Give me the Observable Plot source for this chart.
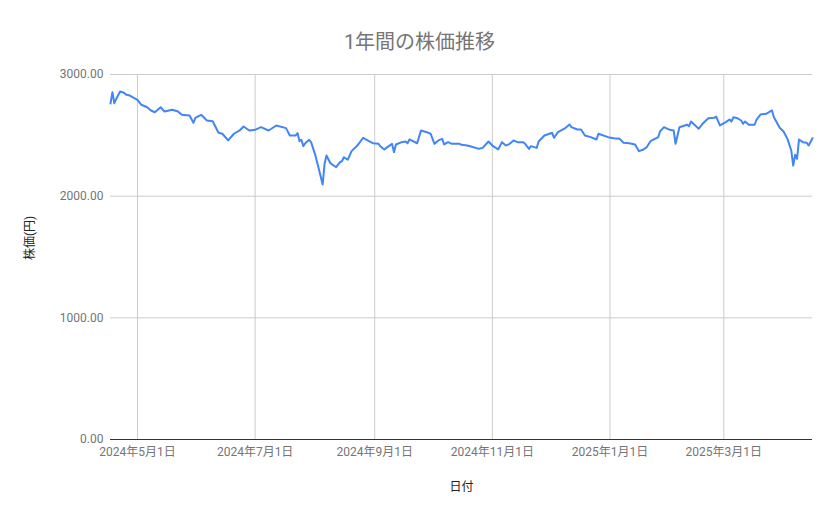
<!DOCTYPE html>
<html>
<head>
<meta charset="utf-8">
<script src="https://cdn.jsdelivr.net/npm/d3@7"></script>
<script src="https://cdn.jsdelivr.net/npm/@observablehq/plot@0.6"></script>
<style>
  body { margin: 0; background: #fff; }
  #wrap { position: relative; width: 839px; height: 519px; }
  #title { position: absolute; left: 0; top: 26px; width: 839px; text-align: center;
    font-family: Roboto, "Noto Sans CJK JP", sans-serif; font-size: 20px; color: #757575; }
</style>
</head>
<body>
<div id="wrap"><div id="title">1年間の株価推移</div></div>
<script>
const titleText = "1年間の株価推移";
const xLabel = "日付";
const yLabel = "株価(円)";

const dates = [
  "2024-04-17","2024-04-18","2024-04-19","2024-04-20","2024-04-22","2024-04-24","2024-04-25","2024-04-27",
  "2024-05-01","2024-05-03","2024-05-06","2024-05-08","2024-05-10","2024-05-13","2024-05-15","2024-05-19",
  "2024-05-22","2024-05-24","2024-05-28","2024-05-30","2024-05-31","2024-06-03","2024-06-06","2024-06-09",
  "2024-06-12","2024-06-14","2024-06-17","2024-06-20","2024-06-23","2024-06-25","2024-06-28","2024-07-01",
  "2024-07-04","2024-07-08","2024-07-12","2024-07-17","2024-07-19","2024-07-22","2024-07-23","2024-07-24",
  "2024-07-25","2024-07-26","2024-07-27","2024-07-29","2024-07-30","2024-08-01","2024-08-03","2024-08-05",
  "2024-08-06","2024-08-07","2024-08-09","2024-08-12","2024-08-14","2024-08-15","2024-08-16","2024-08-18",
  "2024-08-20","2024-08-23","2024-08-26","2024-08-29","2024-08-31","2024-09-03","2024-09-04","2024-09-06",
  "2024-09-07","2024-09-10","2024-09-11","2024-09-12","2024-09-15","2024-09-17","2024-09-18","2024-09-19",
  "2024-09-23","2024-09-25","2024-09-28","2024-09-30","2024-10-01","2024-10-02","2024-10-04","2024-10-06",
  "2024-10-07","2024-10-09","2024-10-11","2024-10-15","2024-10-16","2024-10-19","2024-10-21","2024-10-25",
  "2024-10-27","2024-10-30","2024-11-01","2024-11-04","2024-11-06","2024-11-08","2024-11-10","2024-11-12",
  "2024-11-14","2024-11-17","2024-11-18","2024-11-20","2024-11-21","2024-11-24","2024-11-25","2024-11-28",
  "2024-12-02","2024-12-03","2024-12-05","2024-12-09","2024-12-11","2024-12-12","2024-12-15","2024-12-17",
  "2024-12-19","2024-12-22","2024-12-25","2024-12-26","2024-12-31","2025-01-03","2025-01-06","2025-01-08",
  "2025-01-11","2025-01-14","2025-01-16","2025-01-18","2025-01-20","2025-01-22","2025-01-26","2025-01-27",
  "2025-01-29","2025-02-01","2025-02-03","2025-02-04","2025-02-06","2025-02-10","2025-02-11","2025-02-12",
  "2025-02-16","2025-02-18","2025-02-21","2025-02-24","2025-02-25","2025-02-27","2025-03-02","2025-03-04",
  "2025-03-05","2025-03-06","2025-03-08","2025-03-10","2025-03-11","2025-03-12","2025-03-14","2025-03-17",
  "2025-03-18","2025-03-20","2025-03-23","2025-03-25","2025-03-26","2025-03-27","2025-03-30","2025-04-01",
  "2025-04-03","2025-04-05","2025-04-06","2025-04-07","2025-04-08","2025-04-09","2025-04-11","2025-04-13",
  "2025-04-14","2025-04-16"
];
const prices = [
  2762,2855,2764,2800,2860,2850,2836,2827,
  2792,2751,2731,2704,2690,2731,2696,2710,
  2696,2669,2663,2603,2644,2669,2622,2616,
  2521,2513,2458,2513,2540,2573,2540,2545,
  2567,2540,2581,2559,2499,2499,2518,2452,
  2463,2411,2435,2463,2444,2348,2225,2096,
  2266,2334,2271,2238,2279,2287,2320,2299,
  2370,2416,2480,2452,2435,2430,2408,2384,
  2397,2430,2361,2425,2444,2449,2435,2466,
  2435,2540,2526,2513,2471,2430,2458,2471,
  2425,2444,2430,2430,2422,2416,2408,2389,
  2397,2449,2416,2384,2444,2416,2430,2458,
  2444,2444,2430,2389,2411,2397,2449,2499,
  2521,2480,2526,2562,2589,2567,2548,2548,
  2499,2485,2466,2513,2485,2476,2471,2439,
  2435,2425,2370,2381,2402,2452,2485,2534,
  2567,2545,2540,2430,2567,2587,2575,2614,
  2554,2595,2641,2644,2655,2581,2608,2630,
  2614,2649,2641,2622,2595,2614,2587,2587,
  2630,2671,2677,2696,2704,2649,2562,2531,
  2471,2375,2252,2340,2307,2466,2444,2439,
  2416,2476
];
const yTicks = [0, 1000, 2000, 3000];
const xTickDates = ["2024-05-01","2024-07-01","2024-09-01","2024-11-01","2025-01-01","2025-03-01"];

const parse = d3.utcParse("%Y-%m-%d");
const data = dates.map((d, i) => ({date: parse(d), price: prices[i]}));
const xTicks = xTickDates.map(parse);
const fmtDate = d => `${d.getUTCFullYear()}年${d.getUTCMonth() + 1}月${d.getUTCDate()}日`;

const chart = Plot.plot({
  width: 839,
  height: 519,
  marginLeft: 110,
  marginRight: 27,
  marginTop: 74,
  marginBottom: 80,
  style: {fontFamily: 'Roboto, "Noto Sans CJK JP", sans-serif', fontSize: "12px", color: "#757575", background: "#fff"},
  x: {type: "utc", domain: [data[0].date, data[data.length - 1].date]},
  y: {domain: [0, 3000]},
  marks: [
    Plot.gridY(yTicks, {stroke: "#cccccc", strokeOpacity: 1}),
    Plot.gridX(xTicks, {stroke: "#cccccc", strokeOpacity: 1}),
    Plot.axisY(yTicks, {tickSize: 0, tickPadding: 7, tickFormat: d3.format(".2f"), label: null, fill: "#757575"}),
    Plot.axisX(xTicks, {tickSize: 0, tickPadding: 8, tickFormat: fmtDate, label: null, fill: "#757575"}),
    Plot.ruleY([0], {stroke: "#333333", strokeWidth: 1}),
    Plot.line(data, {x: "date", y: "price", stroke: "#4285f4", strokeWidth: 2, curve: "linear"}),
    Plot.text([xLabel], {frameAnchor: "bottom", dy: 51, fill: "#222", fontSize: 12}),
    Plot.text([yLabel], {frameAnchor: "left", dx: -80, dy: 3, rotate: -90, fill: "#222", fontSize: 12})
  ]
});
document.getElementById("wrap").appendChild(chart);
document.getElementById("title").textContent = titleText;
</script>
</body>
</html>
